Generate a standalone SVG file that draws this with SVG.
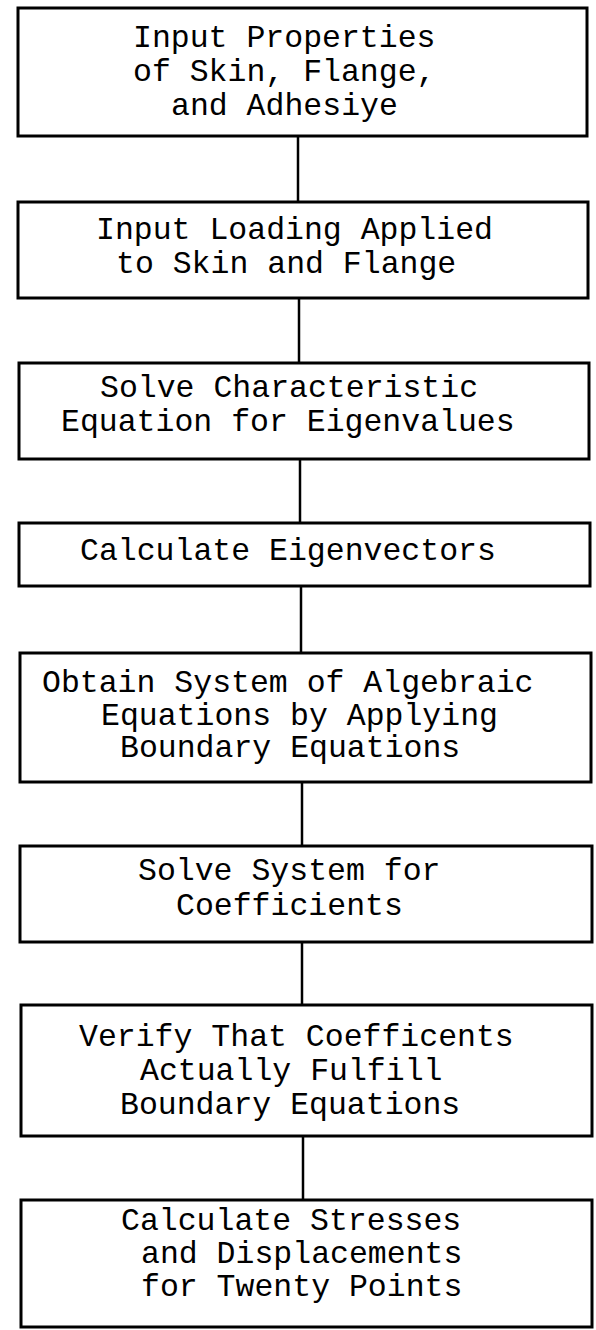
<svg xmlns="http://www.w3.org/2000/svg" width="596" height="1330" viewBox="0 0 596 1330">
<style>
.box{fill:#fff;stroke:#000;stroke-width:3}
.con{stroke:#000;stroke-width:2.5;fill:none}
text{font-family:"Liberation Mono","Courier New",monospace;font-size:31.5px;fill:#000}
</style>
<rect width="596" height="1330" fill="#fff"/>
<g id="connectors">
<line class="con" x1="298" y1="136" x2="298" y2="202"/>
<line class="con" x1="299" y1="298" x2="299" y2="363"/>
<line class="con" x1="300" y1="459" x2="300" y2="523"/>
<line class="con" x1="301" y1="586" x2="301" y2="653"/>
<line class="con" x1="302" y1="782" x2="302" y2="846"/>
<line class="con" x1="302" y1="942" x2="302" y2="1005"/>
<line class="con" x1="303" y1="1136" x2="303" y2="1200"/>
</g>
<g id="n1"><rect class="box" x="18" y="8" width="569" height="128"/>
<text x="133" y="47">Input Properties</text><text x="133" y="81">of Skin, Flange,</text><text x="171" y="115">and Adhesiye</text></g>
<g id="n2"><rect class="box" x="18" y="202" width="570" height="96"/>
<text x="96" y="239">Input Loading Applied</text><text x="116" y="273">to Skin and Flange</text></g>
<g id="n3"><rect class="box" x="19" y="363" width="570" height="96"/>
<text x="100" y="397">Solve Characteristic</text><text x="61" y="431">Equation for Eigenvalues</text></g>
<g id="n4"><rect class="box" x="19" y="523" width="571" height="63"/>
<text x="80" y="560">Calculate Eigenvectors</text></g>
<g id="n5"><rect class="box" x="20" y="653" width="571" height="129"/>
<text x="42" y="692">Obtain System of Algebraic</text><text x="101" y="725">Equations by Applying</text><text x="120" y="757">Boundary Equations</text></g>
<g id="n6"><rect class="box" x="20" y="846" width="572" height="96"/>
<text x="138" y="880">Solve System for</text><text x="176" y="915">Coefficients</text></g>
<g id="n7"><rect class="box" x="21" y="1005" width="571" height="131"/>
<text x="79" y="1046">Verify That Coefficents</text><text x="140" y="1080">Actually Fulfill</text><text x="120" y="1114">Boundary Equations</text></g>
<g id="n8"><rect class="box" x="21" y="1200" width="571" height="127"/>
<text x="121" y="1230">Calculate Stresses</text><text x="141" y="1263">and Displacements</text><text x="141" y="1296">for Twenty Points</text></g>
</svg>
